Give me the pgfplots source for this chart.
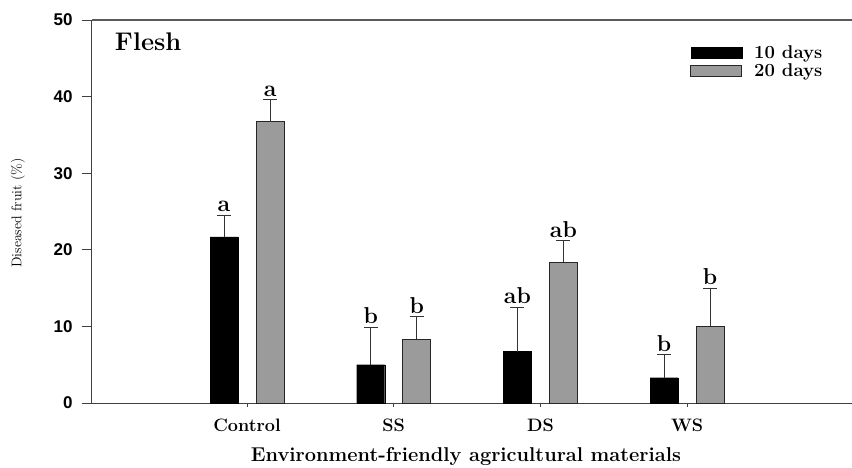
\documentclass[border=0pt]{standalone}
\usepackage{pgfplots}
\pgfplotsset{compat=1.18}
\usepackage{fontspec}
\newfontfamily\tickfont{Liberation Sans}
\definecolor{bargray}{RGB}{155,155,155}
\begin{document}
\begin{tikzpicture}
\path[use as bounding box] (-92pt,-64pt) rectangle (760pt,403pt);
\begin{axis}[
  at={(0pt,0pt)}, anchor=south west,
  scale only axis, width=760pt, height=383pt,
  ybar=18pt, bar width=28pt,
  ymin=0, ymax=50, ytick={0,10,...,50},
  xmin=-0.057, xmax=5.124,
  xtick={1,2,3,4}, xticklabels={Control,SS,DS,WS},
  axis lines=left, axis line style={-, black!75, line width=1pt},
  tick align=outside, major tick length=10pt,
  ytick style={black!75, line width=0.8pt},
  xtick style={draw=none},
  /pgf/number format/assume math mode=true,
  yticklabel style={font=\tickfont\bfseries\fontsize{17}{17}\selectfont, xshift=-6pt},
  xticklabel style={font=\bfseries\fontsize{18}{18}\selectfont, yshift=-2pt},
  xlabel={Environment-friendly agricultural materials},
  xlabel style={at={(axis description cs:0.492,0)}, anchor=center, yshift=-54pt,
    font=\bfseries\fontsize{20}{20}\selectfont\addfontfeatures{LetterSpace=4}},
  ylabel={Diseased fruit (\%)},
  ylabel style={at={(axis description cs:0,0.496)}, anchor=center, yshift=74pt,
    font=\fontsize{14}{14}\selectfont},
  legend style={at={(axis description cs:0.787,0.94)}, anchor=north west,
    draw=none, fill=none, font=\bfseries\fontsize{18.5}{18.5}\selectfont,
    row sep=0pt, column sep=10pt, inner sep=0pt},
  legend cell align=left,
  clip=false,
]
\addplot[fill=black, draw=black,
  legend image code/.code={\draw[fill=black,draw=black] (0pt,-5.5pt) rectangle (51pt,5.5pt);},
  error bars/.cd, y dir=plus, y explicit,
  error bar style={line width=1pt, black!80},
  error mark options={rotate=90, mark size=7pt, line width=1pt, black!80}]
  coordinates {(1,21.7) +- (0,2.8) (2,5.0) +- (0,4.9) (3,6.7) +- (0,5.8) (4,3.3) +- (0,3.0)};
\addlegendentry{10 days}
\addplot[fill=bargray, draw=black!85, line width=0.9pt,
  legend image code/.code={\draw[fill=bargray,draw=black!85,line width=0.9pt] (0pt,-5.5pt) rectangle (51pt,5.5pt);},
  error bars/.cd, y dir=plus, y explicit,
  error bar style={line width=1pt, black!80},
  error mark options={rotate=90, mark size=7pt, line width=1pt, black!80}]
  coordinates {(1,36.7) +- (0,2.9) (2,8.3) +- (0,3.0) (3,18.4) +- (0,2.8) (4,10.0) +- (0,5.0)};
\addlegendentry{20 days}
\draw[black!65, line width=1.5pt] (rel axis cs:0,1) -- (rel axis cs:1,1);
\draw[black!75, line width=0.8pt] (axis cs:1,0) -- ++(0pt,-4pt);
\draw[black!75, line width=0.8pt] (axis cs:2,0) -- ++(0pt,-4pt);
\draw[black!75, line width=0.8pt] (axis cs:3,0) -- ++(0pt,-4pt);
\draw[black!75, line width=0.8pt] (axis cs:4,0) -- ++(0pt,-4pt);
\tikzset{lett/.style={font=\bfseries\fontsize{23}{23}\selectfont, anchor=south, inner sep=0pt, yshift=3pt}}
\node[lett] at (axis cs:0.843,24.5) {a};
\node[lett] at (axis cs:1.157,39.6) {a};
\node[lett] at (axis cs:1.843,9.9) {b};
\node[lett] at (axis cs:2.157,11.3) {b};
\node[lett] at (axis cs:2.843,12.5) {ab};
\node[lett] at (axis cs:3.157,21.2) {ab};
\node[lett] at (axis cs:3.843,6.3) {b};
\node[lett] at (axis cs:4.157,15.0) {b};
\node[font=\bfseries\fontsize{25.5}{25.5}\selectfont, anchor=west, inner sep=0pt] at (axis description cs:0.03,0.943) {Flesh};
\end{axis}
\end{tikzpicture}
\end{document}
